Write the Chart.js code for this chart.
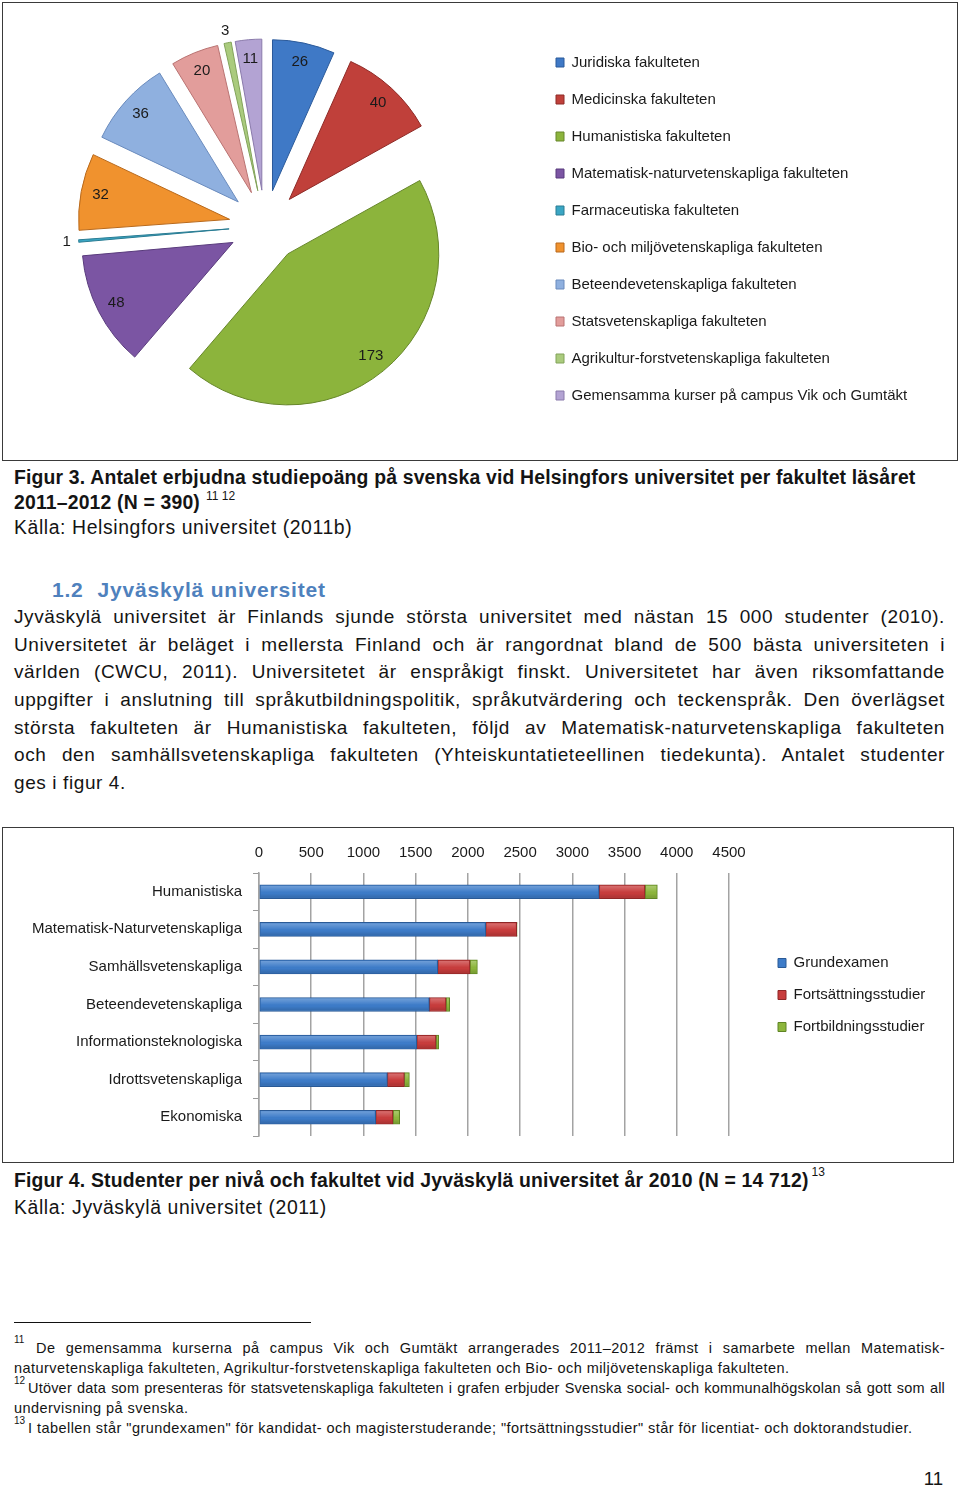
<!DOCTYPE html>
<html lang="sv"><head><meta charset="utf-8">
<title>Figur 3 och 4</title>
<script src="https://cdn.jsdelivr.net/npm/chart.js@4.4.1/dist/chart.umd.min.js"></script>
<style>
html,body{margin:0;padding:0;background:#fff}
body{width:960px;height:1488px;position:relative;overflow:hidden;font-family:"Liberation Sans",Arial,Helvetica,sans-serif;color:#141414}
.box{position:absolute;border:1px solid #3a3a3a;box-sizing:border-box}
.t{position:absolute;white-space:nowrap}
.cap{font-weight:bold;font-size:19.4px;line-height:28px;left:14px;letter-spacing:0.17px}
.src{font-size:19.4px;line-height:28px;left:14px;letter-spacing:0.6px}
.p{left:14px;width:931px;font-size:19px;line-height:27.7px;text-align:justify;text-align-last:justify;letter-spacing:0.6px}
.p.last{text-align:left;text-align-last:left}
.fn{font-size:14.5px;line-height:20px;letter-spacing:0.45px}
.fs{font-size:10px;line-height:20px;letter-spacing:0}
.sup{position:relative;font-size:12px;font-weight:normal;letter-spacing:0}
canvas{position:absolute}
</style></head><body>

<div class="box" style="left:2px;top:2px;width:956px;height:459px"></div>
<canvas id="pie" width="954" height="455" style="left:-4px;top:4px"></canvas>

<div class="t cap" style="top:462.6px">Figur 3. Antalet erbjudna studiepoäng på svenska vid Helsingfors universitet per fakultet läsåret</div>
<div class="t cap" style="top:487.8px">2011–2012 (N = 390)<span class="sup" style="top:-9px;margin-left:6px">11 12</span></div>
<div class="t src" style="top:513.3px">Källa: Helsingfors universitet (2011b)</div>

<div class="t" style="left:52px;top:575.9px;font-size:21px;line-height:28px;font-weight:bold;color:#4f81bd;letter-spacing:0.8px">1.2<span style="display:inline-block;width:14px"></span>Jyväskylä universitet</div>

<div class="t p" style="top:602.9px">Jyväskylä universitet är Finlands sjunde största universitet med nästan 15 000 studenter (2010).</div>
<div class="t p" style="top:630.6px">Universitetet är beläget i mellersta Finland och är rangordnat bland de 500 bästa universiteten i</div>
<div class="t p" style="top:658.3px">världen (CWCU, 2011). Universitetet är enspråkigt finskt. Universitetet har även riksomfattande</div>
<div class="t p" style="top:686.0px">uppgifter i anslutning till språkutbildningspolitik, språkutvärdering och teckenspråk. Den överlägset</div>
<div class="t p" style="top:713.7px">största fakulteten är Humanistiska fakulteten, följd av Matematisk-naturvetenskapliga fakulteten</div>
<div class="t p" style="top:741.4px">och den samhällsvetenskapliga fakulteten (Yhteiskuntatieteellinen tiedekunta). Antalet studenter</div>
<div class="t p last" style="top:769.1px">ges i figur 4.</div>

<div class="box" style="left:2px;top:827px;width:952px;height:336px"></div>
<canvas id="bar" width="950" height="330" style="left:4px;top:830px"></canvas>

<div class="t cap" style="top:1166px">Figur 4. Studenter per nivå och fakultet vid Jyväskylä universitet år 2010 (N = 14 712)<span class="sup" style="top:-11px;margin-left:3px">13</span></div>
<div class="t src" style="top:1193.3px">Källa: Jyväskylä universitet (2011)</div>

<div style="position:absolute;left:14px;top:1322px;width:297px;height:1px;background:#111"></div>
<div class="t fs" style="left:14px;top:1330px">11</div>
<div class="t fn" style="left:36px;width:909px;top:1338.2px;text-align:justify;text-align-last:justify">De gemensamma kurserna på campus Vik och Gumtäkt arrangerades 2011–2012 främst i samarbete mellan Matematisk-</div>
<div class="t fn" style="left:14px;top:1358.2px">naturvetenskapliga fakulteten, Agrikultur-forstvetenskapliga fakulteten och Bio- och miljövetenskapliga fakulteten.</div>
<div class="t fs" style="left:14px;top:1371px">12</div>
<div class="t fn" style="left:28px;width:917px;top:1378.2px;text-align:justify;text-align-last:justify;letter-spacing:0.2px">Utöver data som presenteras för statsvetenskapliga fakulteten i grafen erbjuder Svenska social- och kommunalhögskolan så gott som all</div>
<div class="t fn" style="left:14px;top:1398.2px">undervisning på svenska.</div>
<div class="t fs" style="left:14px;top:1411px">13</div>
<div class="t fn" style="left:28px;top:1418.2px">I tabellen står "grundexamen" för kandidat- och magisterstuderande; "fortsättningsstudier" står för licentiat- och doktorandstudier.</div>

<div class="t" style="left:880px;width:63px;text-align:right;top:1464.6px;font-size:18.6px;line-height:28px">11</div>

<script>
// ---------- Figur 3: data ----------
const pieLabels = [
  'Juridiska fakulteten',
  'Medicinska fakulteten',
  'Humanistiska fakulteten',
  'Matematisk-naturvetenskapliga fakulteten',
  'Farmaceutiska fakulteten',
  'Bio- och miljövetenskapliga fakulteten',
  'Beteendevetenskapliga fakulteten',
  'Statsvetenskapliga fakulteten',
  'Agrikultur-forstvetenskapliga fakulteten',
  'Gemensamma kurser på campus Vik och Gumtäkt'
];
const pieValues = [26, 40, 173, 48, 1, 32, 36, 20, 3, 11];
const pieColors  = ['#3f79c6','#c0403a','#8cb43c','#7b55a3','#3aa6c4','#f0922e','#8fb0df','#e29d9b','#aacb7d','#b3a3d3'];
const pieBorders = ['#2b5a9a','#8e2a26','#66862a','#593b7c','#2a7c93','#b8691c','#6a8bbd','#b97372','#82a35a','#8a7aab'];

// ---------- Figur 4: data ----------
const barCategories = ['Humanistiska','Matematisk-Naturvetenskapliga','Samhällsvetenskapliga','Beteendevetenskapliga','Informationsteknologiska','Idrottsvetenskapliga','Ekonomiska'];
const seriesNames = ['Grundexamen','Fortsättningsstudier','Fortbildningsstudier'];
const grundexamen   = [3256, 2170, 1711, 1631, 1510, 1229, 1117];
const fortsattning  = [440, 297, 309, 160, 185, 163, 166];
const fortbildning  = [118, 5, 71, 35, 25, 48, 64];
const xTickValues = [0, 500, 1000, 1500, 2000, 2500, 3000, 3500, 4000, 4500];
const barColors  = ['#3d7cc9','#c83c3c','#8db63c'];
const barBorders = ['#2a5a96','#8e2626','#5f8425'];

const FONT_FAMILY = '"Liberation Sans", Arial, Helvetica, sans-serif';
Chart.defaults.font.family = FONT_FAMILY;
Chart.defaults.color = '#1a1a1a';

function maxTextWidth(size, texts) {
  const c = document.createElement('canvas').getContext('2d');
  c.font = 'normal ' + size + 'px ' + FONT_FAMILY;
  return Math.max(...texts.map(t => c.measureText(t).width));
}

// ---------- Figur 3 ----------
const EXPLODE = 36;
const explodePlugin = {
  id: 'explode',
  beforeDatasetDraw(chart, args) {
    const ctx = chart.ctx;
    args.meta.data.forEach(arc => {
      const mid = (arc.startAngle + arc.endAngle) / 2;
      ctx.save();
      ctx.translate(Math.cos(mid) * EXPLODE, Math.sin(mid) * EXPLODE);
      arc.draw(ctx);
      ctx.restore();
    });
    return false;
  }
};
const pieValueLabels = {
  id: 'pieValueLabels',
  afterDatasetsDraw(chart) {
    const ctx = chart.ctx;
    const meta = chart.getDatasetMeta(0);
    const vals = chart.data.datasets[0].data;
    ctx.save();
    ctx.font = '15px ' + FONT_FAMILY;
    ctx.fillStyle = '#1a1a1a';
    ctx.textAlign = 'center';
    ctx.textBaseline = 'middle';
    meta.data.forEach((arc, i) => {
      const mid = (arc.startAngle + arc.endAngle) / 2;
      const share = (arc.endAngle - arc.startAngle) / (2 * Math.PI);
      const d = share < 0.02 ? EXPLODE + arc.outerRadius + 12 : EXPLODE + 0.87 * arc.outerRadius;
      ctx.fillText(String(vals[i]), arc.x + Math.cos(mid) * d, arc.y + Math.sin(mid) * d);
    });
    ctx.restore();
  }
};

const PIE_W = 954, PIE_AREA_RIGHT = 538;
const pieLeg = { size: 15, box: 8, pad: 22 };
const pieLegW = pieLeg.pad + pieLeg.box + pieLeg.size / 2 + maxTextWidth(pieLeg.size, pieLabels) + 10;

new Chart(document.getElementById('pie'), {
  type: 'pie',
  data: {
    labels: pieLabels,
    datasets: [{ data: pieValues, backgroundColor: pieColors, borderColor: pieBorders, borderWidth: 1 }]
  },
  options: {
    responsive: false,
    animation: false,
    radius: 151,
    layout: { padding: { left: 0, top: 0, right: PIE_W - PIE_AREA_RIGHT - pieLegW, bottom: 11 } },
    events: [],
    plugins: {
      tooltip: { enabled: false },
      legend: {
        position: 'right',
        align: 'center',
        maxWidth: 700,
        title: { display: true, text: '', font: { size: 1 }, padding: { top: 4.8, bottom: 0 } },
        labels: { boxWidth: pieLeg.box, boxHeight: 9, padding: pieLeg.pad, color: '#1a1a1a', font: { size: pieLeg.size } }
      }
    }
  },
  plugins: [explodePlugin, pieValueLabels]
});

// ---------- Figur 4 ----------
const BAR_W = 950, BAR_AREA_RIGHT = 725, GAP_W = 32;
const barLeg = { size: 15, box: 8, pad: 17 };
const barLegW = barLeg.pad + barLeg.box + barLeg.size / 2 + maxTextWidth(barLeg.size, seriesNames) + 10;

// soft bevel shading on each bar drawn by the library
const barGloss = {
  id: 'barGloss',
  afterDatasetsDraw(chart) {
    const ctx = chart.ctx;
    chart.data.datasets.forEach((ds, di) => {
      chart.getDatasetMeta(di).data.forEach(el => {
        const {x, y, base, height} = el.getProps(['x', 'y', 'base', 'height'], true);
        const left = Math.min(x, base), w = Math.abs(x - base);
        if (w < 1) return;
        const top = y - height / 2;
        const g = ctx.createLinearGradient(0, top, 0, top + height);
        g.addColorStop(0, 'rgba(255,255,255,0.30)');
        g.addColorStop(0.45, 'rgba(255,255,255,0.05)');
        g.addColorStop(0.6, 'rgba(0,0,0,0)');
        g.addColorStop(1, 'rgba(0,0,0,0.18)');
        ctx.save();
        ctx.fillStyle = g;
        ctx.fillRect(left + 1, top + 1, w - 2, height - 2);
        ctx.restore();
      });
    });
  }
};

new Chart(document.getElementById('bar'), {
  type: 'bar',
  data: {
    labels: barCategories,
    datasets: [
      { label: seriesNames[0], data: grundexamen,  backgroundColor: barColors[0], borderColor: barBorders[0] },
      { label: seriesNames[1], data: fortsattning, backgroundColor: barColors[1], borderColor: barBorders[1] },
      { label: seriesNames[2], data: fortbildning, backgroundColor: barColors[2], borderColor: barBorders[2] }
    ]
  },
  options: {
    indexAxis: 'y',
    responsive: false,
    animation: false,
    events: [],
    datasets: { bar: { barThickness: 14, borderWidth: 1, borderSkipped: false } },
    layout: { padding: { left: 0, top: 0, right: BAR_W - BAR_AREA_RIGHT - GAP_W - barLegW, bottom: 24 } },
    scales: {
      x: {
        position: 'top', stacked: true, min: 0, max: 4500,
        afterBuildTicks: s => { s.ticks = xTickValues.map(v => ({ value: v })); },
        ticks: { color: '#1a1a1a', font: { size: 15 }, padding: 11, callback: v => String(v) },
        grid: { color: '#a3a3a3', lineWidth: 1.5, drawTicks: false },
        border: { display: false },
        afterFit: s => { s.height = 43; }
      },
      y: {
        stacked: true,
        ticks: { color: '#1a1a1a', font: { size: 15 }, padding: 11 },
        grid: { drawOnChartArea: false, tickLength: 6, color: '#9a9a9a', offset: true },
        border: { display: true, color: '#a3a3a3', width: 1.5 },
        afterFit: s => { s.width = 255; }
      },
      gap: {
        type: 'category', axis: 'y', position: 'right', display: true,
        ticks: { display: false }, grid: { display: false, drawTicks: false }, border: { display: false },
        afterFit: s => { s.width = GAP_W; }
      }
    },
    plugins: {
      tooltip: { enabled: false },
      legend: {
        position: 'right',
        align: 'center',
        maxWidth: 400,
        title: { display: true, text: '', font: { size: 1 }, padding: { top: 22.8, bottom: 0 } },
        labels: { boxWidth: barLeg.box, boxHeight: 9, padding: barLeg.pad, color: '#1a1a1a', font: { size: barLeg.size } }
      }
    }
  },
  plugins: [barGloss]
});
</script>
</body></html>
